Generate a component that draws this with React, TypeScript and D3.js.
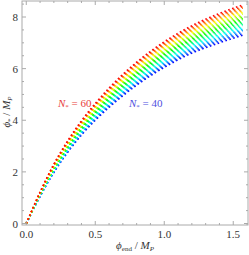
import React from 'react';
import * as d3 from 'd3';

// phi_end grid (M_P units)
const phiEnd = [0, 0.1, 0.2, 0.3, 0.4, 0.5, 0.6, 0.8, 1.0, 1.2, 1.4, 1.57];
const nValues = [40, 41, 42, 43, 44, 45, 46, 47, 48, 49, 50, 51, 52, 53, 54, 55, 56, 57, 58, 59, 60];
// phi_* for each N (rows follow nValues)
const phiStar = [
  [0, 1.05, 1.98, 2.76, 3.43, 4.0, 4.5, 5.36, 6.05, 6.6, 7.0, 7.3],
  [0, 1.06, 2.0, 2.78, 3.46, 4.03, 4.54, 5.4, 6.1, 6.65, 7.06, 7.36],
  [0, 1.07, 2.01, 2.8, 3.49, 4.07, 4.58, 5.45, 6.15, 6.71, 7.11, 7.42],
  [0, 1.08, 2.03, 2.83, 3.51, 4.1, 4.61, 5.49, 6.2, 6.76, 7.17, 7.48],
  [0, 1.08, 2.04, 2.85, 3.54, 4.13, 4.65, 5.54, 6.25, 6.81, 7.23, 7.53],
  [0, 1.09, 2.06, 2.87, 3.57, 4.16, 4.69, 5.58, 6.3, 6.87, 7.29, 7.59],
  [0, 1.1, 2.08, 2.89, 3.6, 4.2, 4.73, 5.63, 6.35, 6.92, 7.34, 7.65],
  [0, 1.11, 2.09, 2.91, 3.62, 4.23, 4.76, 5.67, 6.4, 6.97, 7.4, 7.71],
  [0, 1.12, 2.11, 2.94, 3.65, 4.26, 4.8, 5.72, 6.45, 7.02, 7.46, 7.77],
  [0, 1.13, 2.12, 2.96, 3.68, 4.29, 4.84, 5.76, 6.5, 7.08, 7.51, 7.83],
  [0, 1.14, 2.14, 2.98, 3.71, 4.33, 4.88, 5.81, 6.55, 7.13, 7.57, 7.89],
  [0, 1.14, 2.16, 3.0, 3.73, 4.36, 4.91, 5.85, 6.59, 7.18, 7.63, 7.94],
  [0, 1.15, 2.17, 3.02, 3.76, 4.39, 4.95, 5.89, 6.64, 7.24, 7.68, 8.0],
  [0, 1.16, 2.19, 3.05, 3.79, 4.42, 4.99, 5.94, 6.69, 7.29, 7.74, 8.06],
  [0, 1.17, 2.2, 3.07, 3.82, 4.46, 5.03, 5.98, 6.74, 7.34, 7.8, 8.12],
  [0, 1.18, 2.22, 3.09, 3.84, 4.49, 5.06, 6.03, 6.79, 7.4, 7.86, 8.18],
  [0, 1.19, 2.24, 3.11, 3.87, 4.52, 5.1, 6.07, 6.84, 7.45, 7.91, 8.24],
  [0, 1.19, 2.25, 3.13, 3.9, 4.55, 5.14, 6.12, 6.89, 7.5, 7.97, 8.29],
  [0, 1.2, 2.27, 3.16, 3.93, 4.59, 5.18, 6.16, 6.94, 7.55, 8.03, 8.35],
  [0, 1.21, 2.28, 3.18, 3.95, 4.62, 5.21, 6.21, 6.99, 7.61, 8.08, 8.41],
  [0, 1.22, 2.3, 3.2, 3.98, 4.65, 5.25, 6.25, 7.04, 7.66, 8.14, 8.47],
];
const xMajor = [0, 0.5, 1.0, 1.5];
const xMinor = [0.1, 0.2, 0.3, 0.4, 0.6, 0.7, 0.8, 0.9, 1.1, 1.2, 1.3, 1.4, 1.6];
const yMajor = [0, 2, 4, 6, 8];
const yMinor = [0.5, 1, 1.5, 2.5, 3, 3.5, 4.5, 5, 5.5, 6.5, 7, 7.5, 8.5];

const W = 249;
const H = 255;
const left = 22, right = 248, top = 1, bottom = 225;
const frameColor = '#aaa';
const font = '"Liberation Serif", "DejaVu Serif", serif';

export default function App() {
  const x = d3.scaleLinear().domain([-0.031, 1.607]).range([left, right]);
  const y = d3.scaleLinear().domain([-0.058, 8.62]).range([bottom, top]);
  const hue = d3.scaleLinear().domain([40, 60]).range([240, 0]);

  const line = d3.line<number>()
    .x((d, i) => x(phiEnd[i]))
    .y(d => y(d))
    .curve(d3.curveMonotoneX);

  return (
    <svg width={W} height={H} style={{ position: 'absolute', left: 0, top: 0 }}
      fontFamily={font}>
      <rect x={0} y={0} width={W} height={H} fill="white" />
      <g>
        {nValues.map((n, j) => (
          <path key={n} d={line(phiStar[j]) || ''} fill="none"
            stroke={d3.hsl(hue(n), 1, 0.52).toString()} strokeWidth={1.6}
            strokeDasharray="1.6 2.5" />
        ))}
      </g>
      <rect x={left} y={top} width={right - left} height={bottom - top}
        fill="none" stroke={frameColor} strokeWidth={1} />
      <g stroke={frameColor} strokeWidth={1}>
        {xMajor.map(v => (
          <g key={'xM' + v}>
            <line x1={x(v)} x2={x(v)} y1={bottom} y2={bottom - 4} />
            <line x1={x(v)} x2={x(v)} y1={top} y2={top + 4} />
          </g>
        ))}
        {xMinor.map(v => (
          <g key={'xm' + v}>
            <line x1={x(v)} x2={x(v)} y1={bottom} y2={bottom - 2} />
            <line x1={x(v)} x2={x(v)} y1={top} y2={top + 2} />
          </g>
        ))}
        {yMajor.map(v => (
          <g key={'yM' + v}>
            <line x1={left} x2={left + 4} y1={y(v)} y2={y(v)} />
            <line x1={right} x2={right - 4} y1={y(v)} y2={y(v)} />
          </g>
        ))}
        {yMinor.map(v => (
          <g key={'ym' + v}>
            <line x1={left} x2={left + 2} y1={y(v)} y2={y(v)} />
            <line x1={right} x2={right - 2} y1={y(v)} y2={y(v)} />
          </g>
        ))}
      </g>
      <g fontSize={11} fill="#333">
        {xMajor.map(v => (
          <text key={'xt' + v} x={x(v)} y={bottom + 13} textAnchor="middle">
            {d3.format('.1f')(v)}
          </text>
        ))}
        {yMajor.map(v => (
          <text key={'yt' + v} x={left - 4} y={y(v) + 4} textAnchor="end">
            {v}
          </text>
        ))}
      </g>
      <text x={135} y={249} textAnchor="middle" fontSize={11} fill="#333">
        <tspan fontStyle="italic">ϕ</tspan>
        <tspan fontSize={7} dy={2}>end</tspan>
        <tspan dy={-2}> / </tspan>
        <tspan fontStyle="italic">M</tspan>
        <tspan fontSize={7} dy={2} fontStyle="italic">P</tspan>
      </text>
      <text transform="translate(10,112) rotate(-90)" textAnchor="middle"
        fontSize={11} fill="#333">
        <tspan fontStyle="italic">ϕ</tspan>
        <tspan fontSize={7} dy={2}>*</tspan>
        <tspan dy={-2}> / </tspan>
        <tspan fontStyle="italic">M</tspan>
        <tspan fontSize={7} dy={2} fontStyle="italic">P</tspan>
      </text>
      <text x={58} y={107} fontSize={11} fill="#e8403c">
        <tspan fontStyle="italic">N</tspan>
        <tspan fontSize={7} dy={2}>*</tspan>
        <tspan dy={-2}> = 60</tspan>
      </text>
      <text x={129} y={107} fontSize={11} fill="#5050e0">
        <tspan fontStyle="italic">N</tspan>
        <tspan fontSize={7} dy={2}>*</tspan>
        <tspan dy={-2}> = 40</tspan>
      </text>
    </svg>
  );
}
